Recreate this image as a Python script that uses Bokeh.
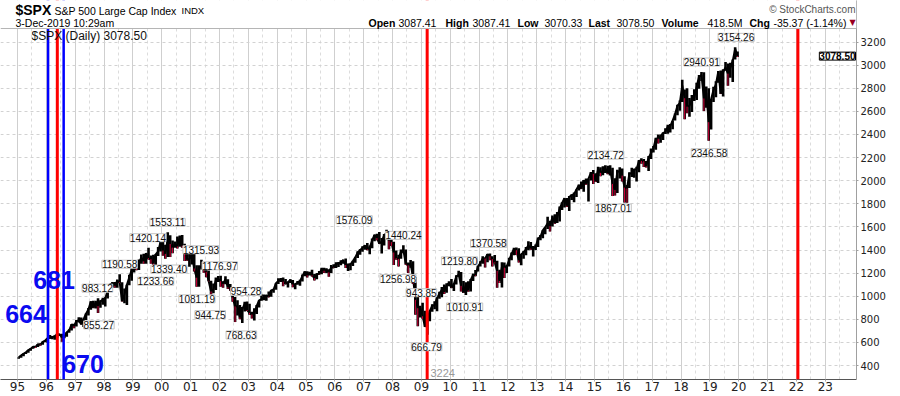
from bokeh.plotting import figure
from bokeh.models import (Range1d, FixedTicker, Span, Label, LabelSet, ColumnDataSource,
                          BoxAnnotation)
from bokeh.core.properties import value
from bokeh.embed import file_html
from bokeh.resources import INLINE

# ---------------- data (monthly, Jan 1995 .. Dec 2019) ----------------
first_year = 1995
close = [
    470.42, 487.39, 500.71, 514.71, 533.40, 544.75, 562.06, 561.88, 584.41, 581.50, 605.37, 615.93,  # 1995
    636.02, 640.43, 645.50, 654.17, 669.12, 670.63, 639.95, 651.99, 687.33, 705.27, 757.02, 740.74,  # 1996
    786.16, 790.82, 757.12, 801.34, 848.28, 885.14, 954.29, 899.47, 947.28, 914.62, 955.40, 970.43,  # 1997
    980.28, 1049.34, 1101.75, 1111.75, 1090.82, 1133.84, 1120.67, 957.28, 1017.01, 1098.67, 1163.63, 1229.23,  # 1998
    1279.64, 1238.33, 1286.37, 1335.18, 1301.84, 1372.71, 1328.72, 1320.41, 1282.71, 1362.93, 1388.91, 1469.25,  # 1999
    1394.46, 1366.42, 1498.58, 1452.43, 1420.60, 1454.60, 1430.83, 1517.68, 1436.51, 1429.40, 1314.95, 1320.28,  # 2000
    1366.01, 1239.94, 1160.33, 1249.46, 1255.82, 1224.42, 1211.23, 1133.58, 1040.94, 1059.78, 1139.45, 1148.08,  # 2001
    1130.20, 1106.73, 1147.39, 1076.92, 1067.14, 989.82, 911.62, 916.07, 815.28, 885.76, 936.31, 879.82,  # 2002
    855.70, 841.15, 848.18, 916.92, 963.59, 974.50, 990.31, 1008.01, 995.97, 1050.71, 1058.20, 1111.92,  # 2003
    1131.13, 1144.94, 1126.21, 1107.30, 1120.68, 1140.84, 1101.72, 1104.24, 1114.58, 1130.20, 1173.82, 1211.92,  # 2004
    1181.27, 1203.60, 1180.59, 1156.85, 1191.50, 1191.33, 1234.18, 1220.33, 1228.81, 1207.01, 1249.48, 1248.29,  # 2005
    1280.08, 1280.66, 1294.83, 1310.61, 1270.09, 1270.20, 1276.66, 1303.82, 1335.85, 1377.94, 1400.63, 1418.30,  # 2006
    1438.24, 1406.82, 1420.86, 1482.37, 1530.62, 1503.35, 1455.27, 1473.99, 1526.75, 1549.38, 1481.14, 1468.36,  # 2007
    1378.55, 1330.63, 1322.70, 1385.59, 1400.38, 1280.00, 1267.38, 1282.83, 1166.36, 968.75, 896.24, 903.25,  # 2008
    825.88, 735.09, 797.87, 872.81, 919.14, 919.32, 987.48, 1020.62, 1057.08, 1036.19, 1095.63, 1115.10,  # 2009
    1073.87, 1104.49, 1169.43, 1186.69, 1089.41, 1030.71, 1101.60, 1049.33, 1141.20, 1183.26, 1180.55, 1257.64,  # 2010
    1286.12, 1327.22, 1325.83, 1363.61, 1345.20, 1320.64, 1292.28, 1218.89, 1131.42, 1253.30, 1246.96, 1257.60,  # 2011
    1312.41, 1365.68, 1408.47, 1397.91, 1310.33, 1362.16, 1379.32, 1406.58, 1440.67, 1412.16, 1416.18, 1426.19,  # 2012
    1498.11, 1514.68, 1569.19, 1597.57, 1630.74, 1606.28, 1685.73, 1632.97, 1681.55, 1756.54, 1805.81, 1848.36,  # 2013
    1782.59, 1859.45, 1872.34, 1883.95, 1923.57, 1960.23, 1930.67, 2003.37, 1972.29, 2018.05, 2067.56, 2058.90,  # 2014
    1994.99, 2104.50, 2067.89, 2085.51, 2107.39, 2063.11, 2103.84, 1972.18, 1920.03, 2079.36, 2080.41, 2043.94,  # 2015
    1940.24, 1932.23, 2059.74, 2065.30, 2096.95, 2098.86, 2173.60, 2170.95, 2168.27, 2126.15, 2198.81, 2238.83,  # 2016
    2278.87, 2363.64, 2362.72, 2384.20, 2411.80, 2423.41, 2470.30, 2471.65, 2519.36, 2575.26, 2647.58, 2673.61,  # 2017
    2823.81, 2713.83, 2640.87, 2648.05, 2705.27, 2718.37, 2816.29, 2901.52, 2913.98, 2711.74, 2760.17, 2506.85,  # 2018
    2704.10, 2784.49, 2834.40, 2945.83, 2752.06, 2941.76, 2980.38, 2926.46, 2976.74, 3037.56, 3140.98, 3078.50,  # 2019
]
high = [
    471, 489, 507, 515, 534, 551, 563, 566, 586, 590, 608, 622,
    637, 664, 656, 659, 680, 673, 676, 665, 690, 714, 757, 761,
    794, 817, 815, 805, 851, 898, 957, 961, 960, 983.12, 964, 986,
    992, 1050, 1106, 1123, 1122, 1145, 1190.58, 1121, 1066, 1100, 1185, 1245,
    1280, 1275, 1317, 1362, 1368, 1375, 1420.14, 1352, 1358, 1365, 1425, 1473,
    1478, 1445, 1553.11, 1527, 1482, 1474, 1517, 1526, 1531, 1454, 1433, 1390,
    1384, 1376, 1267, 1269, 1315.93, 1287, 1239, 1222, 1134, 1110, 1161, 1174,
    1176.97, 1130, 1173, 1147, 1106, 1070, 994, 965, 925, 907, 951, 954.28,
    935, 866, 895, 924, 965, 1015, 1015, 1011, 1040, 1054, 1063, 1112,
    1155, 1158, 1163, 1150, 1127, 1146, 1141, 1109, 1131, 1142, 1188, 1217,
    1217, 1212, 1229, 1192, 1199, 1219, 1246, 1246, 1243, 1233, 1270, 1276,
    1295, 1297, 1311, 1318, 1326, 1284, 1283, 1306, 1340, 1389, 1407, 1432,
    1441, 1461, 1439, 1499, 1532, 1540, 1556, 1503, 1539, 1576.09, 1523, 1523,
    1471, 1396, 1359, 1404, 1440.24, 1404, 1292, 1313, 1303, 1167, 1007, 918,
    943.85, 875, 833, 876, 930, 957, 997, 1039, 1080, 1101, 1113, 1130,
    1150, 1112, 1181, 1219.80, 1210, 1132, 1120, 1130, 1149, 1196, 1228, 1263,
    1303, 1345, 1333, 1365, 1370.58, 1346, 1357, 1307, 1230, 1293, 1292, 1270,
    1333, 1378, 1420, 1422, 1415, 1364, 1392, 1427, 1475, 1470, 1434, 1448,
    1509, 1530, 1570, 1598, 1687, 1654, 1698, 1709, 1730, 1776, 1813, 1849,
    1851, 1867, 1883, 1897, 1924, 1968, 1992, 2005, 2019, 2019, 2075, 2093,
    2064, 2120, 2117, 2126, 2134.72, 2130, 2133, 2113, 2021, 2094, 2117, 2105,
    2039, 1963, 2073, 2112, 2103, 2120, 2179, 2194, 2188, 2170, 2214, 2278,
    2301, 2371, 2401, 2399, 2418, 2454, 2484, 2491, 2520, 2582, 2657, 2695,
    2872.87, 2789, 2801, 2717, 2742, 2791, 2848, 2916, 2940.91, 2939, 2815, 2800,
    2708, 2814, 2860, 2949, 2954, 2965, 3027, 3014, 3022, 3050, 3154.26, 3119,
]
low = [
    459, 468, 481, 500, 510, 527, 545, 553, 560, 572, 580, 602,
    597, 631, 627, 624, 641, 656, 605, 637, 649, 684, 703, 723,
    737, 773, 756, 733, 794, 832, 883, 898, 893, 855.27, 900, 927,
    912, 980, 1045, 1076, 1074, 1074, 1114, 954, 939, 923, 1096, 1134,
    1205, 1225, 1228, 1282, 1281, 1281, 1318, 1280, 1263, 1233.66, 1348, 1387,
    1350, 1325, 1339.40, 1339, 1373, 1420, 1413, 1429, 1420, 1305, 1307, 1254,
    1274, 1214, 1081.6, 1081.19, 1232, 1203, 1165, 1129, 944.75, 1026, 1054, 1124,
    1081, 1074, 1104, 1063, 1048, 952, 775.7, 833, 800, 768.63, 868, 872,
    840, 806, 789, 846, 902, 961, 965, 960, 990, 996, 1031, 1056,
    1106, 1123, 1087, 1105, 1076, 1115, 1078, 1060, 1100, 1090, 1127, 1173,
    1163, 1180, 1170, 1136, 1146, 1188, 1190, 1201, 1201, 1168, 1201, 1245,
    1245, 1253, 1268, 1280, 1245, 1219, 1224, 1262, 1290, 1331, 1360, 1385,
    1403, 1398, 1364, 1416, 1476, 1484, 1454, 1370, 1439, 1489, 1406, 1435,
    1270, 1316, 1256.98, 1324, 1373, 1272, 1200, 1247, 1106, 840, 741, 815,
    804, 734, 666.79, 784, 866, 888, 869, 979, 992, 1020, 1029, 1086,
    1071, 1045, 1101, 1170, 1040, 1028, 1010.91, 1039, 1040, 1132, 1173, 1213,
    1257, 1282, 1249, 1294, 1312, 1258, 1283, 1074, 1114, 1075, 1158, 1202,
    1258, 1312, 1354, 1357, 1291, 1267, 1325, 1354, 1397, 1403, 1343, 1399,
    1426, 1485, 1501, 1536, 1581, 1560, 1604, 1627, 1633, 1646, 1746, 1768,
    1772, 1738, 1834, 1814, 1859, 1915, 1929, 1904, 1964, 1821, 2001, 1972,
    1988, 1980, 2039, 2048, 2067, 2056, 2044, 1867.01, 1871, 1893, 2019, 1993,
    1812, 1810, 1937, 2033, 2025, 1992, 2074, 2147, 2119, 2114, 2084, 2187,
    2245, 2267, 2322, 2329, 2352, 2405, 2407, 2417, 2446, 2521, 2566, 2605,
    2682, 2532.69, 2585, 2553, 2594, 2691, 2698, 2796, 2864, 2604, 2631, 2346.58,
    2443, 2681, 2722, 2848, 2750, 2728, 2952, 2822, 2892, 2855, 3050, 3070.33,
]

# labelled turning points
peak_values = [855.27, 983.12, 1190.58, 1233.66, 1420.14, 1339.40, 1553.11, 1081.19,
               1315.93, 944.75, 1176.97, 768.63, 954.28, 1576.09, 1256.98, 1440.24,
               943.85, 666.79, 1219.80, 1010.91, 1370.58, 2134.72, 1867.01, 2940.91,
               2346.58, 3154.26]
peak_dates = [1997.82, 1997.77, 1998.54, 1999.79, 1999.52, 2000.25, 2000.20, 2001.22,
              2001.36, 2001.68, 2002.01, 2002.76, 2002.92, 2007.78, 2008.19, 2008.38,
              2009.00, 2009.18, 2010.32, 2010.50, 2011.33, 2015.39, 2015.65, 2018.72,
              2018.98, 2019.91]
peak_is_high = [False, True, True, False, True, False, True, False,
                True, False, True, False, True, True, False, True,
                True, False, True, False, True, True, False, True,
                False, True]

blue_line_dates = [1996.06, 1996.60]
red_line_dates = [1996.38, 2009.20, 2022.05]
cycle_texts = ["664", "681", "670"]
count_text = "3224"

year_ticks = list(range(1995, 2024))
y_ticks = list(range(400, 3201, 200))

last_price = 3078.50
header_items = [("Open", True), ("3087.41", False), ("High", True), ("3087.41", False),
                ("Low", True), ("3070.33", False), ("Last", True), ("3078.50", False),
                ("Volume", True), ("418.5M", False), ("Chg", True), ("-35.37 (-1.14%)", False)]

# ---------------- layout geometry (page pixels) ----------------
W, H = 898, 395
BOTTOM, RIGHT = 16, 42
FRAME_W = W - RIGHT          # frame spans x 0..856
FRAME_H = H - BOTTOM         # frame spans y 0..379 (header lives in its top strip)
PX_PER_YEAR = 28.85
X0 = 1995 - 17 / PX_PER_YEAR
X1 = X0 + FRAME_W / PX_PER_YEAR
UNITS_PER_PX = 3036 / 350.7
Y0 = 279.0
Y1 = Y0 + FRAME_H * UNITS_PER_PX
PLOT_TOP = 28                # top edge of the price panel


def vx(px):  # page pixel -> year
    return X0 + px / PX_PER_YEAR


def vy(py):  # page pixel -> value
    return Y1 - py * UNITS_PER_PX


FONT = "Liberation Sans"

p = figure(width=W, height=H, output_backend="svg", toolbar_location=None,
           x_range=Range1d(X0, X1), y_range=Range1d(Y0, Y1),
           y_axis_location="right", min_border_left=0, min_border_top=0,
           min_border_bottom=BOTTOM, min_border_right=RIGHT)
p.background_fill_color = "white"
p.border_fill_color = "white"
p.outline_line_color = None

# axes
p.xaxis.ticker = FixedTicker(ticks=year_ticks, minor_ticks=[y + 0.5 for y in year_ticks])
p.xaxis.major_label_overrides = {y: "%02d" % (y % 100) for y in year_ticks}
p.xaxis.major_label_text_font = "DejaVu Sans"
p.xaxis.major_label_text_font_size = "12px"
p.xaxis.major_label_text_color = "#222222"
p.xaxis.major_label_standoff = 0
p.xaxis.axis_line_color = "#555555"
p.xaxis.major_tick_out = 2
p.xaxis.major_tick_in = 0
p.xaxis.major_tick_line_color = "#aaaaaa"
p.xaxis.minor_tick_out = 0
p.xaxis.minor_tick_in = 0

p.yaxis.ticker = FixedTicker(ticks=y_ticks)
p.yaxis.major_label_text_font = "DejaVu Sans"
p.yaxis.major_label_text_font_size = "10px"
p.yaxis.major_label_text_color = "#222222"
p.yaxis.major_label_standoff = 2
p.yaxis.axis_line_color = "#a0a0a0"
p.yaxis.major_tick_out = 2
p.yaxis.major_tick_in = 0
p.yaxis.major_tick_line_color = "#a0a0a0"
p.yaxis.minor_tick_out = 0
p.yaxis.minor_tick_in = 0

p.xgrid.grid_line_color = "#cfcfcf"
p.xgrid.minor_grid_line_color = "#dcdcdc"
p.xgrid.minor_grid_line_dash = "3 3"
p.ygrid.grid_line_color = "#d2d2d2"
p.ygrid.grid_line_dash = "3 3"

# price bars
xs = [first_year + (i + 0.5) / 12 for i in range(len(close))]
down = [i for i in range(1, len(close)) if close[i] < close[i - 1]]
src = ColumnDataSource(dict(x=xs, hi=high, lo=low, c=close))
p.segment(x0="x", y0="lo", x1="x", y1="hi", source=src, line_color="black", line_width=2.6)
p.line(x="x", y="c", source=src, line_color="black", line_width=2)
dsrc = ColumnDataSource(dict(x=[xs[i] for i in down], lo=[low[i] for i in down],
                             c=[close[i] for i in down]))
p.segment(x0="x", y0="lo", x1="x", y1="c", source=dsrc, line_color="#d6003a", line_width=1)

# vertical marker lines
for d in blue_line_dates:
    p.add_layout(Span(location=d, dimension="height", line_color="#0000ff", line_width=2.5))
for d in red_line_dates:
    p.add_layout(Span(location=d, dimension="height", line_color="#ff0000", line_width=3))

# peak / trough labels
psrc = ColumnDataSource(dict(
    x=peak_dates, y=peak_values, t=["%.2f" % v for v in peak_values],
    yo=[10 if h else -12 for h in peak_is_high],
    xo=[-32 if v == 1576.09 else 0 for v in peak_values]))
p.add_layout(LabelSet(x="x", y="y", text="t", source=psrc, x_offset="xo", y_offset="yo",
                      text_font=value(FONT), text_font_size="10px", text_color="#111111",
                      text_align="center", text_baseline="middle",
                      background_fill_color="white", border_line_color="#c4c4c4",
                      border_line_width=1))

# big cycle numbers
for t, (px, py) in zip(cycle_texts, [(25.5, 313.5), (53.5, 279.5), (82.5, 363.5)]):
    p.add_layout(Label(x=vx(px), y=vy(py), text=t, text_font=FONT, text_font_style="bold",
                       text_font_size="25px", text_color="#0a0af0",
                       text_align="center", text_baseline="middle"))
p.add_layout(Label(x=vx(430), y=vy(372.5), text=count_text, text_font=FONT,
                   text_font_size="11px", text_color="#999999", text_baseline="middle"))

# in-plot caption
p.add_layout(Label(x=vx(31), y=vy(35), text="$SPX (Daily) %.2f" % last_price,
                   text_font=FONT, text_font_size="12px", text_color="#111111",
                   text_baseline="middle"))

# last price tag at the right edge of the price panel
p.add_layout(Label(x=X1, y=last_price, x_offset=-1, text="%.2f" % last_price, text_font=FONT,
                   text_font_style="bold", text_font_size="10px", text_color="black",
                   text_align="right", text_baseline="middle", background_fill_color="white",
                   border_line_color="black", border_line_width=1))

# ---------------- header strip (white band above the price panel) ----------------
p.add_layout(BoxAnnotation(bottom=vy(PLOT_TOP), top=Y1, left=X0, right=X1,
                           fill_color="white", fill_alpha=1, line_color=None))
p.add_layout(Span(location=vy(PLOT_TOP), dimension="width", line_color="#b5b5b5", line_width=1))

p.add_layout(Label(x=vx(15), y=vy(9.5), text="$SPX", text_font=FONT, text_font_style="bold",
                   text_font_size="14px", text_color="black", text_baseline="middle"))
p.add_layout(Label(x=vx(54), y=vy(10), text="S&P 500 Large Cap Index", text_font=FONT,
                   text_font_size="10.5px", text_color="black", text_baseline="middle"))
p.add_layout(Label(x=vx(181), y=vy(10), text="INDX", text_font=FONT,
                   text_font_size="9.5px", text_color="black", text_baseline="middle"))
p.add_layout(Label(x=vx(855), y=vy(8.5), text="\u00a9 StockCharts.com", text_font=FONT,
                   text_font_size="10px", text_color="#555555", text_align="right",
                   text_baseline="middle"))
p.add_layout(Label(x=vx(15), y=vy(22.5), text="3-Dec-2019 10:29am", text_font=FONT,
                   text_font_size="10.5px", text_color="black", text_baseline="middle"))
header_x = [368, 398, 445, 472, 517, 544, 588, 616, 661, 707, 749, 773]
for (t, bold), hx in zip(header_items, header_x):
    p.add_layout(Label(x=vx(hx), y=vy(22.5), text=t, text_font=FONT,
                       text_font_style="bold" if bold else "normal",
                       text_font_size="10.5px", text_color="black", text_baseline="middle"))
p.add_layout(Label(x=vx(849), y=vy(22), text="\u25bc", text_font="DejaVu Sans",
                   text_font_size="8px", text_color="#99001f", text_baseline="middle"))

open("out.html", "w").write(file_html(p, INLINE))
